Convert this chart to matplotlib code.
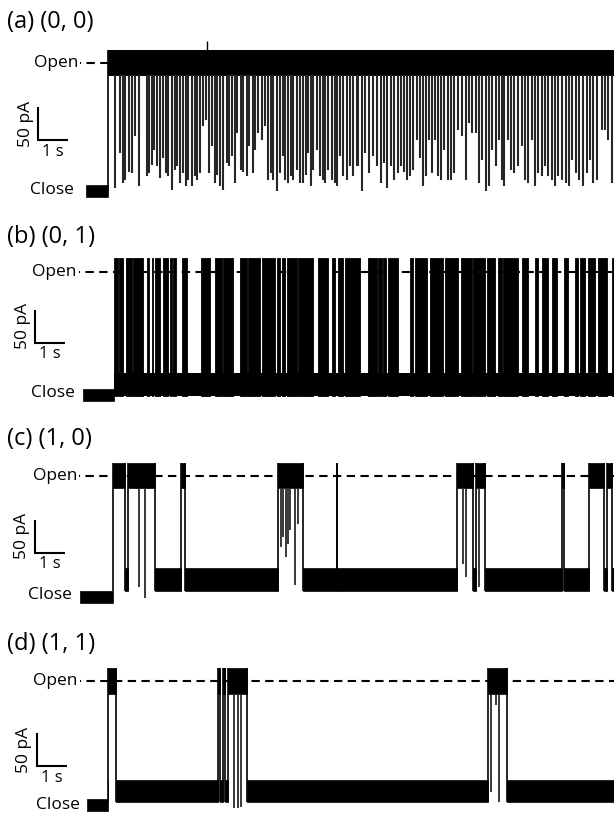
import numpy as np
import matplotlib
matplotlib.use("Agg")
import matplotlib.pyplot as plt

plt.rcParams['font.family'] = ['Open Sans', 'DejaVu Sans']

titles = ["(a) (0, 0)", "(b) (0, 1)", "(c) (1, 0)", "(d) (1, 1)"]

# current levels in pA, relative to the closed level at the start of each trace
open_level = [192, 185, 182, 186]
base_level = [0, 16, 26, 21]
pre_start = [-0.73, -1.03, -1.1, -0.7]
trace_end = [16.87, 16.67, 16.7, 16.87]

# (a) brief closures during the open state: time (s), lowest current (pA)
a_close_t = [0.23, 0.40, 0.51, 0.57, 0.71, 0.79, 0.90, 1.04, 1.29, 1.38,
             1.46, 1.53, 1.62, 1.73, 1.82, 1.93, 2.01, 2.12, 2.23, 2.31,
             2.40, 2.49, 2.60, 2.68, 2.79, 2.90, 2.98, 3.07, 3.18, 3.27,
             3.38, 3.46, 3.57, 3.64, 3.73, 3.84, 3.96, 4.04, 4.12, 4.23,
             4.31, 4.42, 4.51, 4.62, 4.71, 4.82, 4.90, 5.01, 5.12, 5.23,
             5.34, 5.42, 5.51, 5.62, 5.73, 5.82, 5.90, 6.01, 6.09, 6.18,
             6.29, 6.40, 6.51, 6.60, 6.68, 6.76, 6.84, 6.96, 7.07, 7.16,
             7.23, 7.34, 7.46, 7.57, 7.64, 7.73, 7.84, 7.96, 8.07, 8.18,
             8.29, 8.34, 8.48, 8.57, 8.70, 8.84, 8.96, 9.10, 9.21, 9.29,
             9.43, 9.54, 9.66, 9.77, 9.88, 9.98, 10.07, 10.18, 10.29, 10.40,
             10.49, 10.59, 10.70, 10.81, 10.90, 11.01, 11.10, 11.21, 11.32, 11.43,
             11.54, 11.68, 11.79, 11.92, 12.03, 12.14, 12.26, 12.37, 12.48, 12.59,
             12.70, 12.81, 12.92, 13.03, 13.12, 13.21, 13.32, 13.43, 13.54, 13.68,
             13.79, 13.90, 14.01, 14.12, 14.23, 14.34, 14.46, 14.57, 14.68, 14.79,
             14.90, 15.01, 15.12, 15.26, 15.37, 15.48, 15.59, 15.70, 15.84, 15.96,
             16.07, 16.18, 16.29, 16.46, 16.57, 16.68, 16.79]
a_close_i = [4, 57, 12, 17, 29, 27, 82, 7, 22, 27,
             39, 62, 37, 19, 49, 27, 22, 2, 32, 37,
             12, 27, 7, 17, 7, 22, 17, 27, 97, 107,
             27, 67, 12, 24, 7, 2, 42, 37, 52, 12,
             87, 32, 29, 22, 67, 27, 62, 87, 77, 97,
             17, 27, 17, 0, 27, 52, 17, 12, 22, 17,
             32, 12, 12, 24, 57, 7, 32, 62, 22, 17,
             12, 32, 17, 12, 7, 52, 22, 17, 37, 22,
             37, 37, 0, 57, 27, 52, 37, 12, 42, 4,
             37, 17, 27, 37, 29, 17, 22, 32, 77, 49,
             7, 22, 77, 27, 77, 22, 17, 62, 17, 17,
             27, 92, 82, 17, 102, 87, 87, 12, 47, 0,
             7, 62, 37, 77, 17, 7, 77, 32, 27, 37,
             67, 17, 12, 77, 7, 27, 22, 37, 22, 17,
             7, 22, 17, 12, 7, 47, 27, 17, 7, 27,
             47, 12, 17, 92, 92, 77, 12]

# (b) open bursts: start, end (s)
b_open = [(0.00, 0.14), (0.18, 0.29), (0.40, 0.59), (0.64, 0.98), (1.09, 1.18),
          (1.26, 1.31), (1.37, 1.53), (1.64, 1.81), (1.87, 1.92), (1.98, 2.07),
          (2.26, 2.44), (2.89, 3.20), (3.37, 3.59), (3.64, 3.98), (4.20, 4.42),
          (4.48, 4.87), (4.92, 5.37), (5.42, 5.53), (5.59, 5.70), (5.76, 6.09),
          (6.14, 6.64), (6.81, 7.14), (7.26, 7.37), (7.48, 7.64), (7.70, 8.20),
          (8.48, 8.76), (8.81, 8.92), (8.98, 9.06), (9.14, 9.48), (9.87, 9.98),
          (10.03, 10.42), (10.53, 10.98), (11.03, 11.48), (11.57, 11.92), (11.98, 12.37),
          (12.42, 12.70), (12.81, 12.92), (12.98, 13.48), (13.59, 13.79), (14.03, 14.14),
          (14.26, 14.48), (14.59, 14.76), (15.01, 15.14), (15.37, 15.48), (15.53, 15.70),
          (15.81, 16.03), (16.14, 16.42), (16.59, 16.67)]

# (c) open periods and closures inside them
c_open = [(0.00, 0.40), (0.50, 1.40), (2.27, 2.40), (5.50, 6.33), (7.45, 7.48),
          (11.46, 11.99), (12.10, 12.40), (14.96, 15.03), (15.88, 16.37), (16.46, 16.62)]
c_close_t = [0.88, 1.07, 5.60, 5.68, 5.75, 5.82, 5.90, 6.07, 6.15, 11.68, 11.78, 12.20]
c_close_i = [15, -2, 75, 90, 60, 80, 100, 18, 110, 50, 30, 15]

# (d) open periods and closures inside them
d_open = [(0.01, 0.27), (3.68, 3.73), (3.82, 3.90), (3.99, 4.62), (12.68, 13.31)]
d_close_t = [4.19, 4.32, 4.43, 12.78, 12.93, 13.02]
d_close_i = [-5, -5, -3, 20, 150, 5]

# layout: axes rows in figure pixels, x pixel of trace start
W, H = 614, 813
rows = [(0, 206), (206, 410), (410, 612), (612, 813)]
x0_px = [108, 114, 113, 108]
y0_px = [191, 395, 597, 805]
title_y = [253, 237, 237, 241]
open_lab_x = [-1.0, -1.27, -1.2, -1.03]
close_lab = [(-1.13, 1.5), (-1.3, 3), (-1.37, 3), (-0.93, 0)]
dash_start = [-0.93, -1.17, -1.13, -0.93]
bar_corner = [(-2.33, 76), (-2.63, 78), (-2.6, 66), (-2.37, 58)]

PX_S = 30.0     # pixels per second
PA_PX = 1.5     # pA per pixel

fig = plt.figure(figsize=(W / 100, H / 100), dpi=100)


def complement(intervals, end):
    segs = []
    t = 0.0
    for s, e in intervals:
        if s > t:
            segs.append((t, s))
        t = e
    if t < end:
        segs.append((t, end))
    return segs


def draw_frame(ax, k):
    top, bot = rows[k]
    ax.set_xlim(-x0_px[k] / PX_S, (W - x0_px[k]) / PX_S)
    ax.set_ylim((y0_px[k] - bot) * PA_PX, (y0_px[k] - top) * PA_PX)
    ax.axis('off')
    x_left = -x0_px[k] / PX_S + 7 / PX_S
    ax.text(x_left, title_y[k], titles[k], fontsize=17, ha='left', va='center')
    ax.text(open_lab_x[k], open_level[k], "Open", fontsize=12.5, ha='right', va='center')
    ax.text(close_lab[k][0], close_lab[k][1], "Close", fontsize=12.5, ha='right', va='center')
    ax.plot([dash_start[k], trace_end[k]], [open_level[k], open_level[k]], color='k',
            lw=1.5, ls=(3.5, (4, 2.6)), zorder=1)
    bx, by = bar_corner[k]
    ax.plot([bx, bx, bx + 1], [by + 50, by, by], color='k', lw=1.5,
            solid_joinstyle='miter', solid_capstyle='butt', zorder=3)
    ax.text(bx - 0.15, by + 25, "50 pA", rotation=90, fontsize=12.5, ha='right', va='center')
    ax.text(bx + 0.5, by - 5, "1 s", fontsize=12, ha='center', va='top')
    # closed level before the stimulus
    ax.fill_between([pre_start[k], 0], -9, 9, color='k', lw=0.5, zorder=2)


def draw_open_trace(ax, k, intervals, close_t, close_i, nb=17, no=19):
    end = trace_end[k]
    base, op = base_level[k], open_level[k]
    for s, e in complement(intervals, end):
        ax.fill_between([s, e], base - nb, base + nb, color='k', lw=0.5, zorder=2)
    for s, e in intervals:
        ax.fill_between([s, e], op - no, op + no, color='k', lw=0.5, zorder=2)
        ax.vlines([s, e], base - nb, op + no, color='k', lw=1.2, zorder=2)
    ax.vlines(close_t, close_i, op - no, color='#2a2a2a', lw=1.3, zorder=2)


axes = []
for k in range(4):
    top, bot = rows[k]
    ax = fig.add_axes([0, 1 - bot / H, 1, (bot - top) / H])
    draw_frame(ax, k)
    axes.append(ax)

# (a)
ax = axes[0]
ax.vlines(0, 0, open_level[0] + 20, color='k', lw=1.2, zorder=2)
ax.fill_between([0, trace_end[0]], open_level[0] - 20, open_level[0] + 20, color='k', lw=0, zorder=2)
ax.vlines(a_close_t, a_close_i, open_level[0] - 18, color='#262626', lw=1.5, zorder=2)
ax.vlines(3.3, open_level[0], 225, color='k', lw=1.0, zorder=2)

# (b)
ax = axes[1]
ax.fill_between([0, trace_end[1]], base_level[1] - 17, base_level[1] + 17, color='k', lw=0, zorder=2)
for s, e in b_open:
    ax.fill_between([s, e], base_level[1] - 17, open_level[1] + 20, color='k', lw=0.6, zorder=2)

# (c), (d)
draw_open_trace(axes[2], 2, c_open, c_close_t, c_close_i)
draw_open_trace(axes[3], 3, d_open, d_close_t, d_close_i, nb=16, no=20)

fig.savefig("out.png", dpi=100)
